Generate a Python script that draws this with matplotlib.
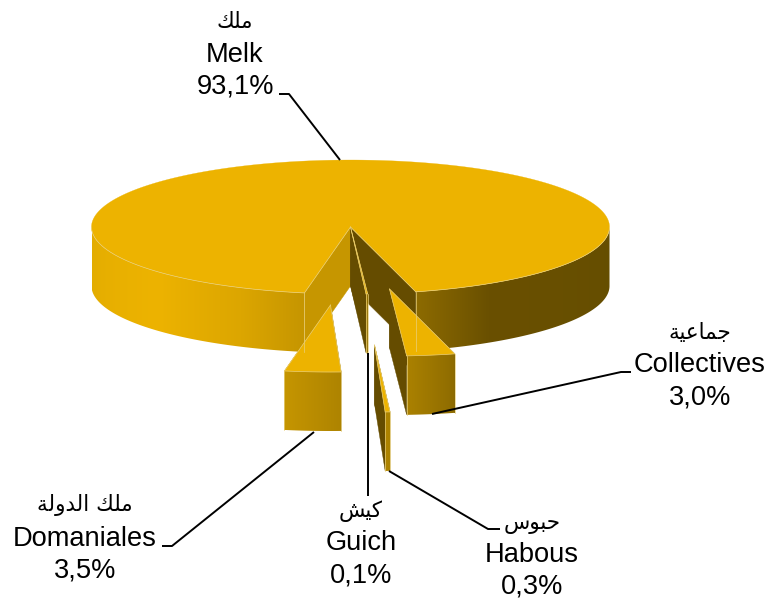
import matplotlib
matplotlib.use('Agg')
import matplotlib.pyplot as plt
import numpy as np

## the data
names = ['Melk', 'Collectives', 'Guich', 'Habous', 'Domaniales']
shares = [93.1, 3.0, 0.1, 0.3, 3.5]
percent_labels = ['93,1%', '3,0%', '0,1%', '0,3%', '3,5%']
# arabic names as presentation forms in visual order, matplotlib does no shaping
# ملك / جماعية / كيش / حبوس / ملك الدولة
arabic_labels = ['\uFEDA\uFEE0\uFEE3',
                 '\uFE94\uFEF4\uFECB\uFE8E\uFEE4\uFE9F',
                 '\uFEB6\uFEF4\uFEDB',
                 '\uFEB1\uFEEE\uFE92\uFEA3',
                 '\uFE94\uFEDF\uFEED\uFEAA\uFEDF\uFE8D \uFEDA\uFEE0\uFEE3']

## pie geometry, pixels
cx, cy = 350.5, 227.0
a, b = 259.0, 67.0
depth = 59.0
first_angle = 14.6   # from the bottom of the ellipse, going clockwise on screen
offsets = {'Melk': (0, 0), 'Collectives': (39, 62), 'Guich': (0, 0),
           'Habous': (24, 118), 'Domaniales': (-20, 78)}
draw_order = ['Melk', 'Guich', 'Domaniales', 'Collectives', 'Habous']

top_color = '#EDB300'
rim_color = '#E9CF7A'
left_face = '#C69600'
right_face = '#654C00'
# side shading against the angle
shade_phi = [-90, -48, -25, -10, 3, 15, 32, 90]
shade_rgb = np.array([[226, 172, 0], [237, 179, 0], [220, 166, 0], [197, 149, 0],
                      [173, 131, 0], [140, 106, 0], [106, 80, 0], [101, 78, 0]]) / 255.

labels_xy = {'Melk': (235, 21.5, 54.5, 86.5), 'Collectives': (700, 333.5, 365.5, 397.5),
             'Guich': (361, 511.5, 542.5, 575.5), 'Habous': (532, 524.5, 554.5, 586.5),
             'Domaniales': (85, 505.5, 538.5, 570.5)}
leaders = {'Melk': [(279, 94), (289, 94), (340, 160)],
           'Collectives': [(432, 414), (621, 372), (631, 372)],
           'Guich': [(367.5, 353), (367.5, 496)],
           'Habous': [(389, 471), (488, 529), (500, 529)],
           'Domaniales': [(162, 546), (172, 546), (314, 432)]}


def rim(phi, dx=0, dy=0, down=0):
    phi = np.radians(phi)
    return np.column_stack([cx + dx + a * np.sin(phi), cy + dy + down + b * np.cos(phi)])


def draw_wall(ax, phi_a, phi_b, dx, dy):
    # one front piece of the outer wall, phi_a < phi_b, both inside -90..90
    phis = np.linspace(phi_a, phi_b, max(int((phi_b - phi_a) * 3), 2))
    top = rim(phis, dx, dy)
    low = rim(phis, dx, dy, depth)
    poly = plt.Polygon(np.vstack([top, low[::-1]]), fc='none', ec='none', transform=ax.transData)
    ax.add_patch(poly)
    x0, x1 = top[:, 0].min(), top[:, 0].max()
    xs = np.linspace(x0, x1, max(int(x1 - x0) * 2, 2))
    col_phi = np.degrees(np.arcsin(np.clip((xs - cx - dx) / a, -1, 1)))
    img = np.column_stack([np.interp(col_phi, shade_phi, shade_rgb[:, i]) for i in range(3)])
    ax.imshow(img[np.newaxis, :, :], extent=(x0, x1, low[:, 1].max(), top[:, 1].min()),
              aspect='auto', clip_path=poly, interpolation='bilinear', zorder=poly.get_zorder())
    ax.plot(top[:, 0], top[:, 1], color=rim_color, lw=0.5)


def draw_slice(ax, phi_from, phi_to, dx, dy):
    # phi_from > phi_to, wedge goes clockwise on screen
    apex = np.array([cx + dx, cy + dy])
    phis = np.linspace(phi_from, phi_to, max(int((phi_from - phi_to) * 2), 2))

    # the two cut faces
    for phi in (phi_to, phi_from):
        col = right_face if (phi + 180) % 360 - 180 > 0 else left_face
        p = rim([phi], dx, dy)[0]
        face = [apex, p, p + [0, depth], apex + [0, depth]]
        ax.add_patch(plt.Polygon(face, fc=col, ec=col, lw=0.3))

    # outer wall, only the front part shows
    if phi_from > 180:
        draw_wall(ax, -90, phi_from - 360, dx, dy)
        draw_wall(ax, phi_to, 90, dx, dy)
    else:
        draw_wall(ax, phi_to, phi_from, dx, dy)

    ax.add_patch(plt.Polygon(np.vstack([apex, rim(phis, dx, dy)]), fc=top_color, ec=top_color, lw=0.2))
    for phi in (phi_from, phi_to):
        p = rim([phi], dx, dy)[0]
        ax.plot([apex[0], p[0]], [apex[1], p[1]], color=rim_color, lw=0.5)
        ax.plot([p[0], p[0]], [p[1], p[1] + depth], color=rim_color, lw=0.5)


fig = plt.figure(figsize=(7.71, 6.03), dpi=100)
ax = fig.add_axes([0, 0, 1, 1])
ax.axis('off')

# angles from the shares: slices after Melk go clockwise from first_angle
spans = {n: s * 3.6 for n, s in zip(names, shares)}
angles = {}
phi = first_angle
for n in names[1:]:
    angles[n] = (phi, phi - spans[n])
    phi -= spans[n]
angles['Melk'] = (first_angle + spans['Melk'], first_angle)

for n in draw_order:
    start, stop = angles[n]
    draw_slice(ax, start, stop, *offsets[n])

for n, ar, pct in zip(names, arabic_labels, percent_labels):
    x, y0, y1, y2 = labels_xy[n]
    ax.text(x, y0, ar, family='DejaVu Sans', fontsize=15.5, ha='center', va='center', color='black')
    ax.text(x, y1, n, family='Liberation Sans', fontsize=19.6, ha='center', va='center', color='black')
    ax.text(x, y2, pct, family='Liberation Sans', fontsize=19.6, ha='center', va='center', color='black')
    pts = np.array(leaders[n])
    ax.plot(pts[:, 0], pts[:, 1], color='black', lw=1.4, solid_capstyle='butt', zorder=5)

ax.set_xlim(0, 771)
ax.set_ylim(603, 0)
fig.savefig('out.png', dpi=100)
